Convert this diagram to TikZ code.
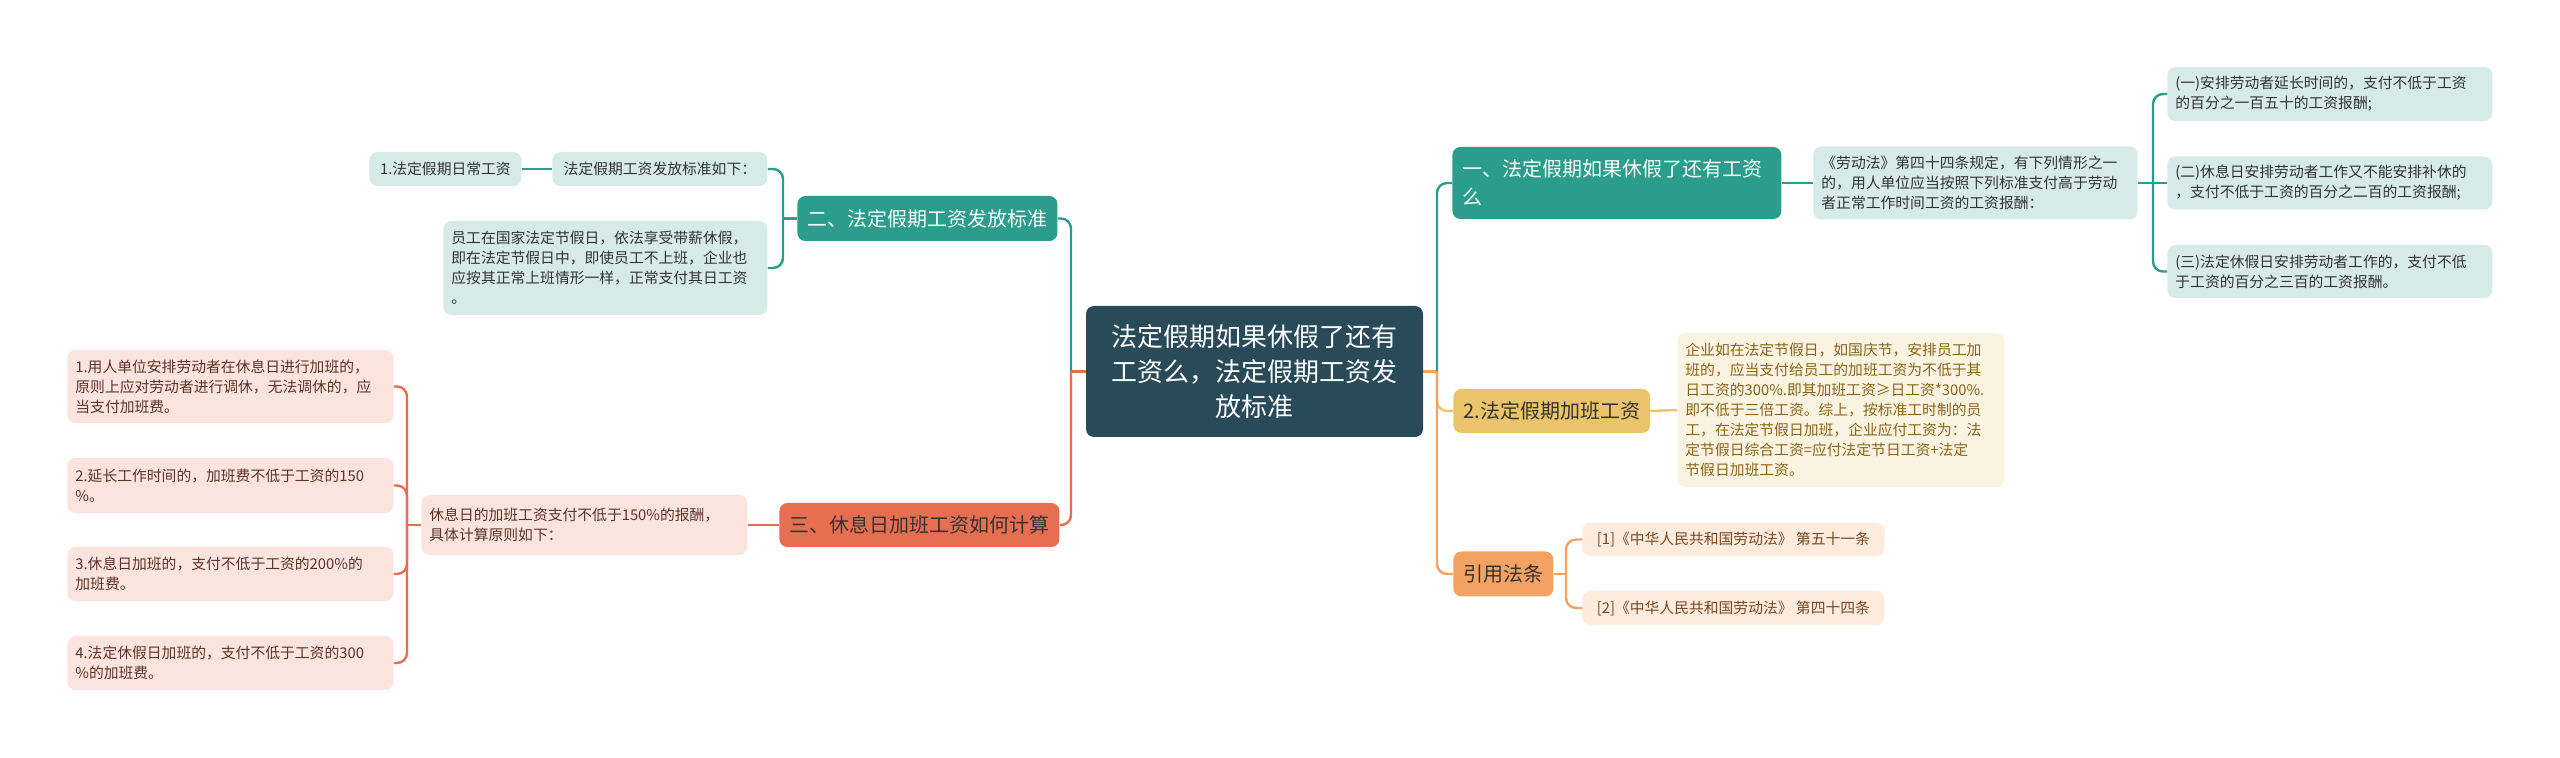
\documentclass[tikz,border=0pt]{standalone}
\usepackage{fontspec}
\setmainfont{Noto Sans CJK SC}
\usepackage{tikz}
\definecolor{cROOT}{HTML}{284A59}
\definecolor{cTEAL}{HTML}{2A9D8C}
\definecolor{cTEALL}{HTML}{D6EBE8}
\definecolor{cRED}{HTML}{E76F51}
\definecolor{cREDL}{HTML}{FBE4DE}
\definecolor{cYEL}{HTML}{E9C46A}
\definecolor{cYELL}{HTML}{FBF3E2}
\definecolor{cORA}{HTML}{F4A261}
\definecolor{cORAL}{HTML}{FDEBDE}
\definecolor{cTXT}{HTML}{333333}
\definecolor{cTXTR}{HTML}{5E3328}
\definecolor{cTXTY}{HTML}{8A6616}
\definecolor{cTXTO}{HTML}{7A4722}

\begin{document}
\begin{tikzpicture}[x=0.5pt, y=-0.5pt,
  box/.style={rounded corners=4pt, inner xsep=5pt, inner ysep=2pt, anchor=west, align=left},
  rootbox/.style={box, anchor=center, align=center, fill=cROOT, text=white, font=\fontsize{13pt}{17.5pt}\selectfont},
  mainbox/.style={box, font=\fontsize{10pt}{14pt}\selectfont},
  leafbox/.style={box, inner xsep=4pt, font=\fontsize{7.4pt}{10pt}\selectfont},
  leafT/.style={leafbox, fill=cTEALL, text=cTXT},
  leafR/.style={leafbox, fill=cREDL, text=cTXTR},
  leafY/.style={leafbox, fill=cYELL, text=cTXTY},
  leafO/.style={leafbox, fill=cORAL, text=cTXTO},
  lnT/.style={draw=cTEAL, line width=1.2pt, rounded corners=5pt},
  lnR/.style={draw=cRED, line width=1.2pt, rounded corners=5pt},
  lnY/.style={draw=cYEL, line width=1.2pt, rounded corners=5pt},
  lnO/.style={draw=cORA, line width=1.2pt, rounded corners=5pt}
]
\fill[white] (0,0) rectangle (2560,758);

\node[rootbox, text width=158.5pt, minimum width=168.5pt, minimum height=65.5pt] (root) at (1254.5,371.5) {法定假期如果休假了还有\\工资么，法定假期工资发\\放标准};

\node[mainbox, fill=cTEAL, text=white, minimum width=129.5pt, minimum height=22.5pt] (b2) at (797,218.5) {二、法定假期工资发放标准};
\node[leafT, minimum width=107.5pt, minimum height=17pt] (b2a) at (552,169) {法定假期工资发放标准如下：};
\node[leafT, minimum width=76pt, minimum height=17pt] (b2a1) at (369,169) {1.法定假期日常工资};
\node[leafT, text width=154pt, minimum height=47pt] (b2b) at (443,268) {员工在国家法定节假日，依法享受带薪休假，\\即在法定节假日中，即使员工不上班，企业也\\应按其正常上班情形一样，正常支付其日工资\\。};

\node[mainbox, fill=cRED, text=cTXT, minimum width=138.5pt, minimum height=22pt] (b3) at (779,525) {三、休息日加班工资如何计算};
\node[leafR, text width=155pt, minimum height=30pt] (b3a) at (421,525) {休息日的加班工资支付不低于150\%的报酬，\\具体计算原则如下：};
\node[leafR, text width=155pt, minimum height=36.5pt] (c1) at (67,386.5) {1.用人单位安排劳动者在休息日进行加班的，\\原则上应对劳动者进行调休，无法调休的，应\\当支付加班费。};
\node[leafR, text width=155pt, minimum height=27.5pt] (c2) at (67,485.5) {2.延长工作时间的，加班费不低于工资的150\\\%。};
\node[leafR, text width=155pt, minimum height=27pt] (c3) at (67,574) {3.休息日加班的，支付不低于工资的200\%的\\加班费。};
\node[leafR, text width=155pt, minimum height=27pt] (c4) at (67,663) {4.法定休假日加班的，支付不低于工资的300\\\%的加班费。};

\node[mainbox, fill=cTEAL, text=white, text width=154.5pt, minimum height=36pt] (a1) at (1452,183) {一、法定假期如果休假了还有工资\\么};
\node[leafT, text width=154pt, minimum height=36.5pt] (a1d) at (1813,183) {《劳动法》第四十四条规定，有下列情形之一\\的，用人单位应当按照下列标准支付高于劳动\\者正常工作时间工资的工资报酬：};
\node[leafT, text width=154.5pt, minimum height=27pt] (r1) at (2167,94) {(一)安排劳动者延长时间的，支付不低于工资\\的百分之一百五十的工资报酬;};
\node[leafT, text width=154.5pt, minimum height=26.5pt] (r2) at (2167,183) {(二)休息日安排劳动者工作又不能安排补休的\\，支付不低于工资的百分之二百的工资报酬;};
\node[leafT, text width=154.5pt, minimum height=26.5pt] (r3) at (2167,271.5) {(三)法定休假日安排劳动者工作的，支付不低\\于工资的百分之三百的工资报酬。};

\node[mainbox, fill=cYEL, text=cTXT, minimum width=97.5pt, minimum height=22pt] (a2) at (1453,411) {2.法定假期加班工资};
\node[leafY, text width=155.5pt, minimum height=77pt] (a2d) at (1677,410) {企业如在法定节假日，如国庆节，安排员工加\\班的，应当支付给员工的加班工资为不低于其\\日工资的300\%.即其加班工资≥日工资*300\%.\\即不低于三倍工资。综上，按标准工时制的员\\工，在法定节假日加班，企业应付工资为：法\\定节假日综合工资=应付法定节日工资+法定\\节假日加班工资。};

\node[mainbox, fill=cORA, text=cTXT, minimum width=49pt, minimum height=22.5pt] (a3) at (1453,574) {引用法条};
\node[leafO, minimum width=151pt, minimum height=16.5pt] (q1) at (1582,539.5) {[1]《中华人民共和国劳动法》 第五十一条};
\node[leafO, minimum width=151pt, minimum height=17pt] (q2) at (1582,608) {[2]《中华人民共和国劳动法》 第四十四条};

\coordinate (lj) at (1071,371.5);
\coordinate (rj) at (1437,371.5);
\coordinate (b2j) at (783,218.5);
\coordinate (b3j) at (407,525);
\coordinate (a1j) at (2153,183);
\coordinate (a3j) at (1566,574);

\draw[lnR] (root.west) -- (lj);
\draw[lnT] (lj) |- (b2.east);
\draw[lnR] (lj) |- (b3.east);
\draw[lnY] (rj) |- (a2.west);
\draw[lnO] (rj) |- (a3.west);
\draw[lnO] (root.east) -- (rj);
\draw[lnT] (rj) |- (a1.west);

\draw[lnT] (b2.west) -- (b2j);
\draw[lnT] (b2j) |- (b2a.east);
\draw[lnT] (b2j) |- (b2b.east);
\draw[lnT] (b2a.west) -- (b2a1.east);

\draw[lnR] (b3.west) -- (b3a.east);
\draw[lnR] (b3a.west) -- (b3j);
\draw[lnR] (b3j) |- (c1.east);
\draw[lnR] (b3j) |- (c2.east);
\draw[lnR] (b3j) |- (c3.east);
\draw[lnR] (b3j) |- (c4.east);

\draw[lnT] (a1.east) -- (a1d.west);
\draw[lnT] (a1d.east) -- (a1j);
\draw[lnT] (a1j) |- (r1.west);
\draw[lnT] (a1j) -- (r2.west);
\draw[lnT] (a1j) |- (r3.west);

\draw[lnY] (a2.east) -- (a2d.west);

\draw[lnO] (a3.east) -- (a3j);
\draw[lnO] (a3j) |- (q1.west);
\draw[lnO] (a3j) |- (q2.west);
\end{tikzpicture}
\end{document}
